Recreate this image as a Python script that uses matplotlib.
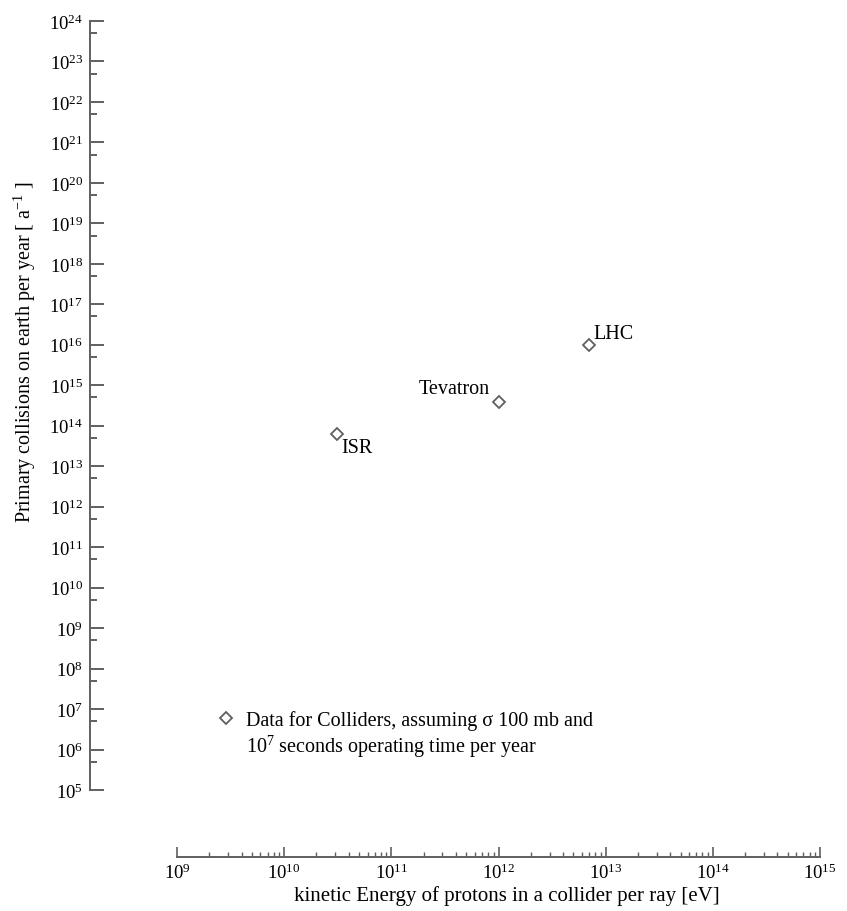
import matplotlib
matplotlib.use("Agg")
import matplotlib.pyplot as plt
from matplotlib.ticker import FixedLocator, NullFormatter
from matplotlib.lines import Line2D

plt.rcParams['font.family'] = ['Liberation Serif', 'DejaVu Serif']
plt.rcParams['mathtext.fontset'] = 'custom'
plt.rcParams['mathtext.rm'] = 'Liberation Serif'
plt.rcParams['mathtext.it'] = 'Liberation Serif:italic'
plt.rcParams['mathtext.default'] = 'regular'

# data
colliders = ["ISR", "Tevatron", "LHC"]
energy_eV = [3.1e10, 1.0e12, 7.0e12]
collisions = [6.3e13, 3.9e14, 1.0e16]

xlim = (1e9, 1e15)
ylim = (1e5, 1e24)
legend_lines = ['Data for Colliders, assuming σ 100 mb and',
                '$10^7$ seconds operating time per year']

W, H = 847, 912
fig = plt.figure(figsize=(W / 100, H / 100), dpi=100)
ax_left, ax_right, ax_top, ax_bottom = 177, 820, 22, 791
aw, ah = ax_right - ax_left, ax_bottom - ax_top
ax = fig.add_axes([ax_left / W, 1 - ax_bottom / H, aw / W, ah / H])

gray = '#606060'
mk = dict(linestyle='none', marker='D', markersize=6.5, markerfacecolor='white',
          markeredgecolor=gray, markeredgewidth=1.3)
ax.plot(energy_eV, collisions, clip_on=False, **mk)

ax.set_xscale('log')
ax.set_yscale('log')
ax.set_xlim(*xlim)
ax.set_ylim(*ylim)

for s in ['top', 'right']:
    ax.spines[s].set_visible(False)
ax.spines['left'].set_position(('outward', (ax_left - 90) * 0.72))
ax.spines['bottom'].set_position(('outward', (858 - ax_bottom) * 0.72))
for s in ['left', 'bottom']:
    ax.spines[s].set_color(gray)
    ax.spines[s].set_linewidth(1.4)

ax.yaxis.set_major_locator(FixedLocator([10.0 ** k for k in range(5, 25)]))
ax.yaxis.set_minor_locator(FixedLocator([5 * 10.0 ** k for k in range(5, 24)]))
ax.yaxis.set_minor_formatter(NullFormatter())
ax.xaxis.set_major_locator(FixedLocator([10.0 ** k for k in range(9, 16)]))
ax.xaxis.set_minor_locator(FixedLocator([m * 10.0 ** k for k in range(9, 15) for m in range(2, 10)]))
ax.xaxis.set_minor_formatter(NullFormatter())

ax.tick_params(axis='y', which='major', direction='in', length=10, width=1.4,
               color=gray, labelsize=13.5, pad=5)
ax.tick_params(axis='y', which='minor', direction='in', length=5, width=1.4, color=gray)
ax.tick_params(axis='x', which='major', direction='in', length=7, width=1.2,
               color=gray, labelsize=13.5, pad=4)
ax.tick_params(axis='x', which='minor', direction='in', length=3.5, width=1.0, color=gray)

ax.set_xlabel('kinetic Energy of protons in a collider per ray [eV]', fontsize=15)
ax.set_ylabel('Primary collisions on earth per year [ a$^{-1}$ ]', fontsize=14.5)
ax.xaxis.set_label_coords((507 - ax_left) / aw, (ax_bottom - 886) / ah)
ax.yaxis.set_label_coords((38 - ax_left) / aw, (ax_bottom - 352) / ah)

# point labels
offsets = {"ISR": ((3, -3), 'left', 'top'),
           "Tevatron": ((-6, 3), 'right', 'bottom'),
           "LHC": ((3, 1), 'left', 'bottom')}
for name, xv, yv in zip(colliders, energy_eV, collisions):
    (dx, dy), ha, va = offsets[name]
    ax.annotate(name, (xv, yv), xytext=(dx, dy), textcoords='offset points',
                ha=ha, va=va, fontsize=14.5, annotation_clip=False)

handles = [Line2D([], [], **mk), Line2D([], [], linestyle='none', marker=None)]
leg = ax.legend(handles, legend_lines,
                loc='upper left', bbox_to_anchor=(216 / W, 1 - 711 / H),
                bbox_transform=fig.transFigure, frameon=False, fontsize=14.5,
                handlelength=1.0, handletextpad=0.5, borderpad=0, borderaxespad=0,
                labelspacing=0.15)

fig.savefig('out.png', dpi=100)
